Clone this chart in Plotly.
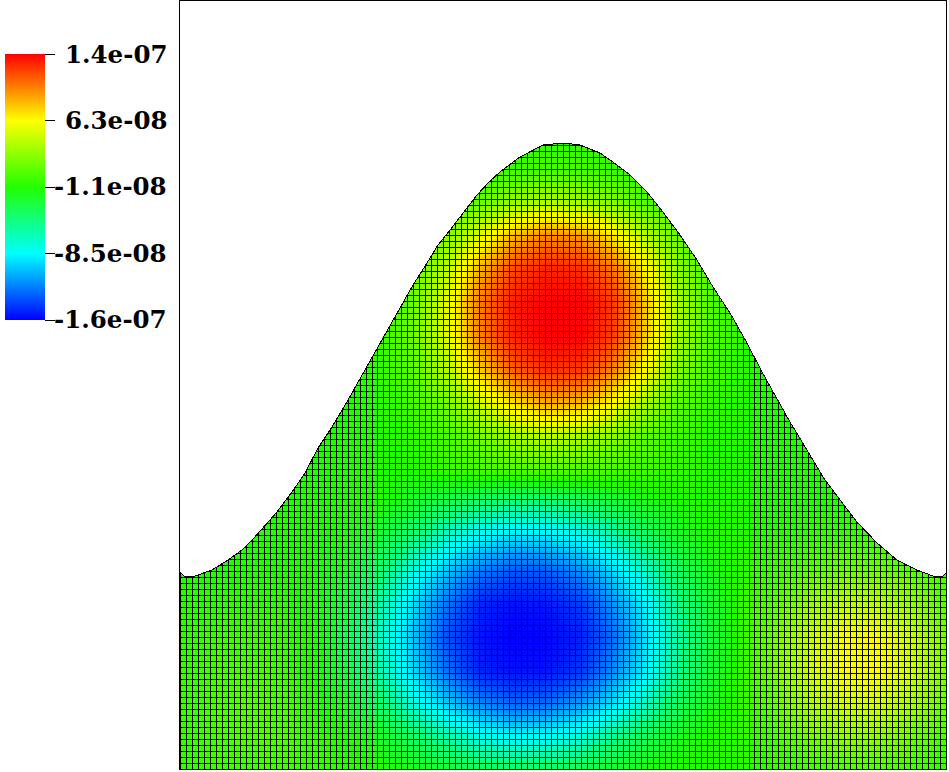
import numpy as np
import plotly.graph_objects as go

# Field samples, in units of 1e-8.
# Column / row positions are picture coordinates (the axes run in those units).
sample_x = [180,213,246,280,313,346,380,413,446,480,513,546,580,613,646,680,713,746,780,813,846,880,913,946]
sample_y = [135,168,201,235,268,302,335,369,402,436,469,503,536,570,603,636,670,703,736,769]
field = [
 [-1,-1,-1,-1,-1,-1,-1,-1,-1,-.9,-.8,-.7,-.7,-.8,-.9,-1,-1,-1,-1,-1,-1,-1,-1,-1],
 [-1,-1,-1,-1,-1,-1,-1,-.95,-.8,-.5,-.1,.2,.1,-.3,-.6,-.9,-1,-1,-1,-1,-1,-1,-1,-1],
 [-1,-1,-1,-1,-1,-1,-1,-.7,0,1.4,3,3.8,3.4,2.2,.7,-.2,-.9,-1,-1,-1,-1,-1,-1,-1],
 [-1,-1,-1,-1,-1,-1,-.8,.2,2.3,5.6,8.6,10,9.4,7.2,4,1.2,-.4,-1,-1,-1,-1,-1,-1,-1],
 [-1,-1,-1,-1,-1,-1,-.5,1,4.3,8.8,11.8,13,12.6,10.5,6.7,2.4,.1,-.9,-1,-1,-1,-1,-1,-1],
 [-1,-1,-1,-1,-1,-1,-.3,1.6,5.6,10.4,13.2,14,14,12.3,8,3.4,.4,-.8,-1,-1,-1,-1,-1,-1],
 [-1,-1,-1,-1,-1,-1,-.3,1.6,5.4,10.2,13,14,13.9,12.1,7.9,3.2,.4,-.8,-1,-1,-1,-1,-1,-1],
 [-1,-1,-1,-1,-1,-1,-.5,.9,4,8,11.2,12.6,12.3,10.1,6.2,2.2,.1,-.9,-1,-1,-1,-1,-1,-1],
 [-1,-1,-1,-1,-1,-1,-.8,.1,1.9,4.9,7.4,9,8.6,6.5,3.4,.8,-.5,-1,-1,-1,-1,-1,-1,-1],
 [-1,-1,-1,-1,-1,-1,-1,-.6,.2,1.7,3.2,4,3.6,2.4,.9,-.2,-.9,-1,-1,-1,-1,-1,-1,-1],
 [-1,-1,-1,-1,-1,-1,-1,-1,-.2,.2,.5,.7,.6,.3,0,-.4,-1,-1,-1,-1,-1,-1,-1,-1],
 [-1,-1,-1,-1,-1,-1,-1.3,-2.4,-3.6,-4.6,-5.2,-5.1,-4.3,-3.1,-2,-1.2,-1,-1,-1,-1,-.9,-.9,-1,-1],
 [-1,-1,-1,-1,-1,-1.4,-2.9,-4.7,-7.1,-8.7,-9.5,-9.3,-8.3,-6.4,-4.1,-2.1,-1.2,-1,-.7,-.4,-.1,-.2,-.5,-.8],
 [-1,-1,-1,-1,-1.1,-2.2,-4.4,-7.8,-10.2,-12.3,-13.4,-13.2,-11.8,-9.6,-6.9,-3.7,-1.8,-.6,.1,.9,1.6,1.5,.7,-.1],
 [-.8,-.7,-.6,-.6,-1.4,-3,-6.1,-9.5,-12.5,-14.9,-15.5,-15.3,-14.2,-11.6,-8.7,-4.9,-2.4,-.2,1.1,3.1,4.2,4.1,2.8,.8],
 [-.6,-.2,0,-.2,-1.2,-3.4,-6.9,-10.3,-13.6,-15.4,-16,-15.9,-15.1,-12.7,-9.4,-5.6,-2.7,-.2,2.2,4.8,6.3,6.2,4.6,1.8],
 [-.4,.1,.4,.1,-1.1,-3.1,-6.2,-9.6,-12.6,-15,-15.5,-15.4,-14.4,-11.8,-8.8,-5,-2.4,-.2,2.3,5.2,6.5,6.4,4.8,1.9],
 [-.3,.3,.7,.4,-.6,-2.2,-4.2,-7.5,-9.9,-11.9,-12.9,-12.7,-11.3,-9.3,-6.6,-3.6,-1.8,-.3,1.6,3.8,5.1,5,3.4,1.3],
 [-.4,.2,.6,.5,-.3,-1.2,-2.2,-3.9,-5.9,-7.8,-8.5,-8.3,-7.4,-5.2,-3.5,-1.9,-1.1,-.5,.5,1.8,2.7,2.6,1.5,.3],
 [-.6,-.2,0,0,-.3,-.7,-1.1,-1.7,-2.4,-3.3,-3.8,-3.7,-3.1,-2.2,-1.5,-1,-1,-.9,-.4,.1,.5,.4,0,-.5],
]

# Upper edge of the domain.
edge_x = [180,185,195,212,228,242,253,263,277,292,305,318,332,348,365,383,400,413,427,438,450,463,477,489,500,520,543,563,580,600,613,630,647,663,680,697,713,730,747,762,773,790,807,823,840,857,877,897,917,933,942,946]
edge_y = [572,577,576,570,560,550,539,528,512,492,473,448,427,400,370,337,308,285,263,245,230,213,195,182,172,157,145,143,145,153,162,175,192,212,235,260,287,313,343,372,392,422,450,477,500,522,543,560,570,576,577,573]

# Colour bar.
tick_values = [14, 6.5, -1, -8.5, -16]
tick_labels = ["1.4e-07", "6.3e-08", "-1.1e-08", "-8.5e-08", "-1.6e-07"]
colour_stops = ["#0000ff", "#00ffff", "#22ff00", "#ffff00", "#ff0000"]

mesh_cells = 128
x_left, x_right, y_bottom, y_top = 180, 946, 769, 1
W, H = 949, 772
FONT = dict(family="DejaVu Serif", size=24.5, color="black", weight="bold")
BAR_TOP, BAR_BOTTOM = 54, 320

colorscale = [[i / 4, c] for i, c in enumerate(colour_stops)]

# Mesh lines sit on whole pixels of the 1:1 axes, so they stay sharp.
mesh_xs, mesh_ys = [], []
for x in np.round(np.linspace(x_left, x_right, mesh_cells + 1)) + 0.5:
    mesh_xs += [float(x), float(x), None]
    mesh_ys += [y_bottom, y_top, None]
for y in np.round(np.linspace(y_bottom, y_top, mesh_cells + 1)) + 0.5:
    mesh_xs += [x_left, x_right, None]
    mesh_ys += [float(y), float(y), None]

fig = go.Figure()
fig.add_trace(go.Heatmap(
    x=sample_x, y=sample_y, z=field, zmin=-16, zmax=14, zsmooth="best",
    colorscale=colorscale, hoverinfo="skip",
    colorbar=dict(
        x=5 / W, xanchor="left", xpad=0,
        y=1 - BAR_TOP / H, yanchor="top", ypad=0,
        lenmode="pixels", len=BAR_BOTTOM - BAR_TOP,
        thicknessmode="pixels", thickness=40,
        outlinewidth=0, borderwidth=0,
        tickmode="array", tickvals=tick_values, ticktext=tick_labels,
        ticks="outside", ticklen=10, tickwidth=1, tickcolor="black",
        showticklabels=False,
    ),
))
fig.add_trace(go.Scatter(x=mesh_xs, y=mesh_ys, mode="lines",
                         line=dict(color="#000000", width=1),
                         hoverinfo="skip", showlegend=False))
fig.add_trace(go.Scatter(x=[x_left] + edge_x + [x_right, x_left],
                         y=[y_top] + edge_y + [y_top, y_top],
                         mode="none", fill="toself", fillcolor="white",
                         hoverinfo="skip", showlegend=False))
fig.add_trace(go.Scatter(x=edge_x, y=edge_y, mode="lines",
                         line=dict(color="#000000", width=1),
                         hoverinfo="skip", showlegend=False))

for value, label in zip(tick_values, tick_labels):
    frac = (14 - value) / 30
    py = BAR_TOP + frac * (BAR_BOTTOM - BAR_TOP)
    fig.add_annotation(x=169 / W, y=1 - py / H, xref="paper", yref="paper",
                       xanchor="right", yanchor="middle", text=label,
                       showarrow=False, font=FONT)

axis_common = dict(showgrid=False, zeroline=False, showticklabels=False, ticks="",
                   showline=True, linecolor="black", linewidth=1, mirror=True)
fig.update_layout(
    width=W, height=H, margin=dict(l=0, r=0, t=0, b=0),
    paper_bgcolor="white", plot_bgcolor="white", showlegend=False,
    xaxis=dict(domain=[x_left / W, x_right / W], range=[x_left, x_right], **axis_common),
    yaxis=dict(domain=[1 - y_bottom / H, 1 - y_top / H], range=[y_bottom, y_top], **axis_common),
)

page_css = ("var s=document.createElement('style');"
            "s.textContent='html,body{margin:0;padding:0;overflow:hidden}"
            ".scatterlayer .trace:last-child .js-line{shape-rendering:crispEdges}';"
            "document.head.appendChild(s);")
fig.write_html("out.html", post_script=page_css, config=dict(displayModeBar=False))
